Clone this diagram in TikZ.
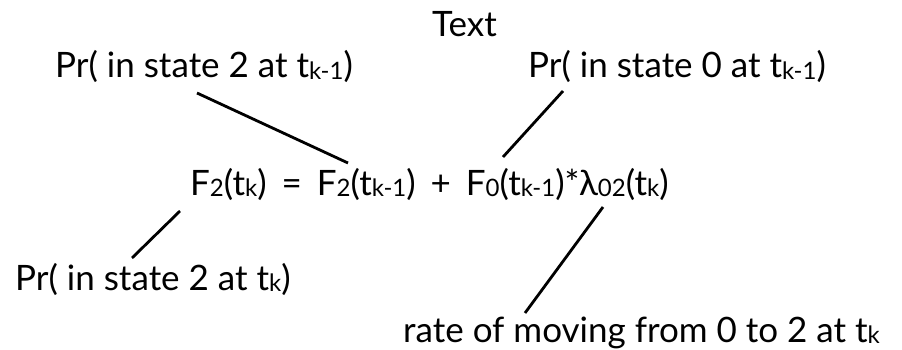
\documentclass[tikz,border=0pt]{standalone}
\usepackage{fontspec}
\setmainfont{Lato}
\newcommand\lowsub[1]{{\fontsize{24}{26}\selectfont\raisebox{-1.5pt}{#1}}}
\begin{document}
\begin{tikzpicture}[x=1pt,y=-1pt,
  lbl/.style={anchor=base west,inner sep=0pt,font=\fontsize{35}{40}\selectfont},
  conn/.style={line width=2.8pt}]
\useasboundingbox (0,0) rectangle (902,350);
\node[lbl] (title) at (432,37) {Text};
\node[lbl] (prtwoprev) at (55,78) {Pr( in state 2 at t\lowsub{k-1})};
\node[lbl] (przeroprev) at (528,78) {Pr( in state 0 at t\lowsub{k-1})};
\node[lbl] (eq) at (190,195) {F\lowsub{2}(t\lowsub{k})\hspace{6pt} = \hspace{6pt}F\lowsub{2}(t\lowsub{k-1})\hspace{6pt} + \hspace{6pt}F\lowsub{0}(t\lowsub{k-1})*λ\lowsub{02}(t\lowsub{k})};
\node[lbl] (prtwo) at (15,290) {Pr( in state 2 at t\lowsub{k})};
\node[lbl] (rate) at (403,342) {rate of moving from 0 to 2 at t\lowsub{k}};
\coordinate (a1) at (197,93);
\coordinate (a2) at (348,163);
\coordinate (b1) at (563,91);
\coordinate (b2) at (503,157);
\coordinate (c1) at (180,211);
\coordinate (c2) at (132,258);
\coordinate (d1) at (603,207);
\coordinate (d2) at (525,313);
\draw[conn] (a1) -- (a2);
\draw[conn] (b1) -- (b2);
\draw[conn] (c1) -- (c2);
\draw[conn] (d1) -- (d2);
\end{tikzpicture}
\end{document}
